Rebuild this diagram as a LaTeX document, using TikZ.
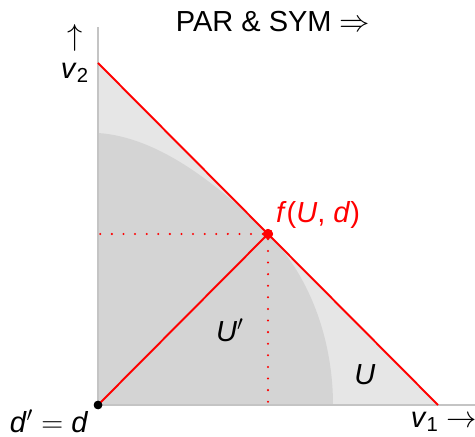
\documentclass[tikz,border=0pt]{standalone}
\usepackage{fontspec}
\setmainfont{Liberation Sans}
\usepackage{tikz}
\usetikzlibrary{
    calc,
    positioning
}
\definecolor{nashaxis}{HTML}{C4C4C4}
\definecolor{nashlight}{HTML}{E6E6E6}
\definecolor{nashdark}{HTML}{D4D4D4}
\definecolor{nashred}{HTML}{FF0000}
\newcommand{\mv}[1]{\textit{#1}}
\tikzstyle{axis}=[draw=nashaxis,line width=1.2pt]
\tikzstyle{redline}=[draw=nashred,line width=1.1pt]
\tikzstyle{reddots}=[draw=nashred,line width=1.3pt,line cap=round,dash pattern=on 0pt off 6.6pt]
\tikzstyle{blackdot}=[circle,fill=black,inner sep=0pt,minimum size=0.17cm]
\tikzstyle{reddot}=[circle,fill=nashred,inner sep=0pt,minimum size=0.2cm]
\tikzstyle{lbl}=[font=\fontsize{16.5}{19}\selectfont,inner sep=0pt]

\begin{document}
\begin{tikzpicture}
\useasboundingbox (0,0) rectangle (9.5,8.72);
% points
\coordinate (O) at (1.96,0.62);
\coordinate (ytop) at (1.96,8.18);
\coordinate (xend) at (9.5,0.62);
\coordinate (a2) at (1.96,7.46);
\coordinate (a1) at (8.76,0.62);
\coordinate (fy) at (1.96,4.04);
\coordinate (fx) at (5.36,0.62);
% regions
\fill[nashlight] (O) -- (a2) -- (a1) -- cycle;
\fill[nashdark] (O) -- (1.96,6.06) .. controls (3.16,5.98) and (4.36,5.04) .. (5.36,4.04)
    .. controls (6.26,3.14) and (6.66,1.82) .. (6.66,0.62) -- cycle;
% axes
\draw[axis] (O) -- (ytop);
\draw[axis] (O) -- (xend);
\node[reddot] (f) at (5.36,4.04) {};
\node[blackdot] (d) at (O) {};
\draw[redline] (a2) -- (a1);
\draw[reddots] (f) -- (fy);
\draw[reddots] (f) -- (fx);
\draw[redline] (d.center) -- (f.center);
\node[reddot] at (f) {};
\node[blackdot] at (d) {};
% labels
\node[lbl] (title) at (5.46,8.28) {PAR \& SYM $\Rightarrow$};
\node[lbl] (v2) at (1.5,7.26) {\mv{v}\textsubscript{2}};
\node[lbl,above=0.22cm of v2] (up) {$\uparrow$};
\node[lbl,text=nashred] (flbl) at (6.36,4.42) {\mv{f}(\mv{U}, \mv{d})};
\node[lbl] (Up) at (4.6,2.12) {\mv{U}$'$};
\node[lbl] (U) at (7.3,1.22) {\mv{U}};
\node[lbl] (dlbl) at (0.98,0.3) {\mv{d}$'$ $=$ \mv{d}};
\node[lbl] (v1) at (8.88,0.28) {\mv{v}\textsubscript{1} $\rightarrow$};
\end{tikzpicture}
\end{document}
